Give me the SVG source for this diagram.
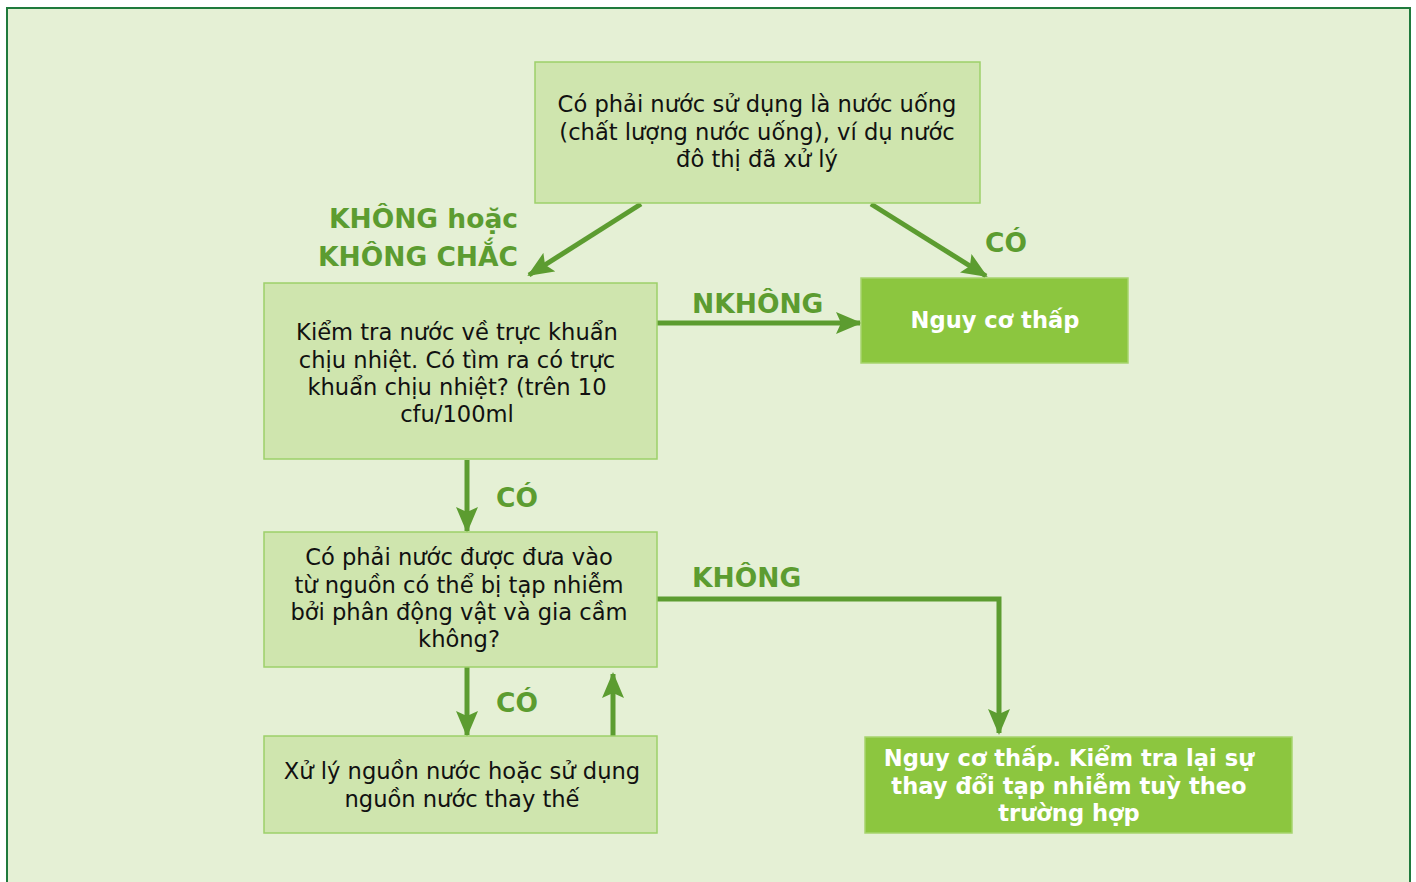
<svg xmlns="http://www.w3.org/2000/svg" width="1416" height="882" viewBox="0 0 1416 882">
<defs>
<marker id="ah" markerUnits="userSpaceOnUse" markerWidth="26" markerHeight="22" refX="24" refY="11" orient="auto">
<path d="M0,0 L26,11 L0,22 L5,11 Z" fill="#5c9c30"/>
</marker>
<style>
.box{fill:#cfe5ae;stroke:#9dd06a;stroke-width:1.5}
.dark{fill:#8cc63f;stroke:#a6d46e;stroke-width:1.5}
.t{font-family:"DejaVu Sans",sans-serif;font-size:22.6px;fill:#111;text-anchor:middle}
.w{font-family:"DejaVu Sans",sans-serif;font-size:22.6px;font-weight:bold;fill:#fff;text-anchor:middle}
.lbl{font-family:"DejaVu Sans",sans-serif;font-size:26.5px;font-weight:bold;fill:#5c9c30}
.c{fill:none;stroke:#5c9c30;stroke-width:5}
</style>
</defs>
<rect x="7" y="8" width="1403" height="890" fill="#e5f0d5" stroke="#1f7a3c" stroke-width="2"/>

<g id="connectors">
<line class="c" x1="641" y1="204" x2="529" y2="275" marker-end="url(#ah)"/>
<line class="c" x1="871" y1="204" x2="986" y2="276" marker-end="url(#ah)"/>
<line class="c" x1="657" y1="323" x2="860" y2="323" marker-end="url(#ah)"/>
<line class="c" x1="467" y1="460" x2="467" y2="531" marker-end="url(#ah)"/>
<polyline class="c" points="657,599 999,599 999,733" marker-end="url(#ah)"/>
<line class="c" x1="467" y1="667" x2="467" y2="735" marker-end="url(#ah)"/>
<line class="c" x1="613" y1="736" x2="613" y2="674" marker-end="url(#ah)"/>
</g>

<g id="labels">
<text class="lbl" x="518" y="228" text-anchor="end">KHÔNG hoặc</text>
<text class="lbl" x="518" y="266" text-anchor="end">KHÔNG CHẮC</text>
<text class="lbl" x="985" y="252">CÓ</text>
<text class="lbl" x="692" y="313">NKHÔNG</text>
<text class="lbl" x="496" y="507">CÓ</text>
<text class="lbl" x="692" y="587">KHÔNG</text>
<text class="lbl" x="496" y="712">CÓ</text>
</g>

<g id="n1">
<rect class="box" x="535" y="62" width="445" height="141"/>
<text class="t" x="757" y="112">Có phải nước sử dụng là nước uống</text>
<text class="t" x="757" y="140">(chất lượng nước uống), ví dụ nước</text>
<text class="t" x="757" y="167">đô thị đã xử lý</text>
</g>

<g id="n2">
<rect class="box" x="264" y="283" width="393" height="176"/>
<text class="t" x="457" y="340">Kiểm tra nước về trực khuẩn</text>
<text class="t" x="457" y="368">chịu nhiệt. Có tìm ra có trực</text>
<text class="t" x="457" y="395">khuẩn chịu nhiệt? (trên 10</text>
<text class="t" x="457" y="422">cfu/100ml</text>
</g>

<g id="n3">
<rect class="dark" x="861" y="278" width="267" height="85"/>
<text class="w" x="995" y="328">Nguy cơ thấp</text>
</g>

<g id="n4">
<rect class="box" x="264" y="532" width="393" height="135"/>
<text class="t" x="459" y="565">Có phải nước được đưa vào</text>
<text class="t" x="459" y="593">từ nguồn có thể bị tạp nhiễm</text>
<text class="t" x="459" y="620">bởi phân động vật và gia cầm</text>
<text class="t" x="459" y="647">không?</text>
</g>

<g id="n5">
<rect class="box" x="264" y="736" width="393" height="97"/>
<text class="t" x="462" y="779">Xử lý nguồn nước hoặc sử dụng</text>
<text class="t" x="462" y="807">nguồn nước thay thế</text>
</g>

<g id="n6">
<rect class="dark" x="865" y="737" width="427" height="96"/>
<text class="w" x="1069" y="766">Nguy cơ thấp. Kiểm tra lại sự</text>
<text class="w" x="1069" y="794">thay đổi tạp nhiễm tuỳ theo</text>
<text class="w" x="1069" y="821">trường hợp</text>
</g>
</svg>
